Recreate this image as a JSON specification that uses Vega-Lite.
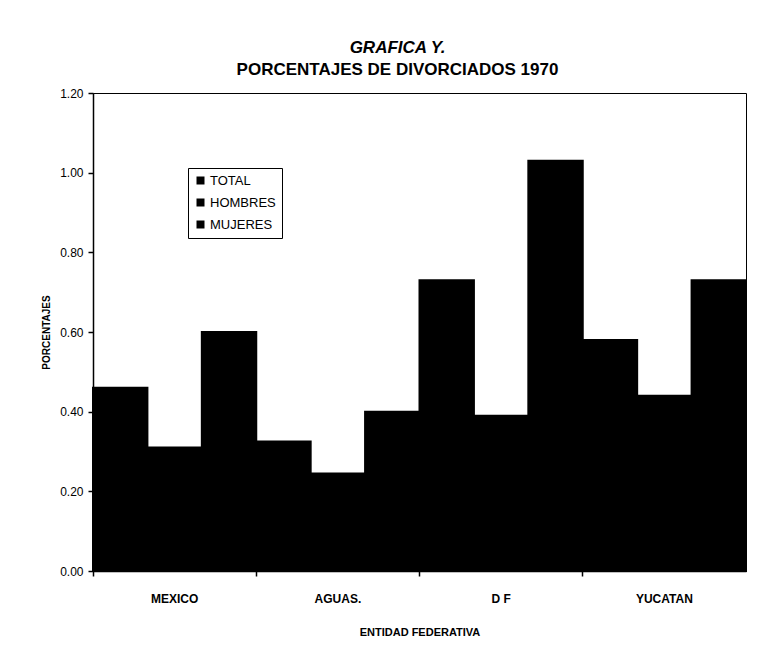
{
  "$schema": "https://vega.github.io/schema/vega-lite/v6.json",
  "autosize": "none",
  "width": 653,
  "height": 478,
  "padding": {"left": 93, "top": 93, "right": 33, "bottom": 82},
  "background": "white",
  "title": {
    "text": "GRAFICA Y.",
    "subtitle": "PORCENTAJES DE DIVORCIADOS 1970",
    "anchor": "middle",
    "dx": -22,
    "offset": 8,
    "font": "Liberation Sans",
    "fontSize": 17,
    "fontWeight": "bold",
    "fontStyle": "italic",
    "color": "black",
    "subtitleFont": "Liberation Sans",
    "subtitleFontSize": 17,
    "subtitleFontWeight": "bold",
    "subtitleFontStyle": "normal",
    "subtitleColor": "black",
    "subtitlePadding": 5
  },
  "data": {
    "values": [
      {"entidad": "MEXICO", "serie": "TOTAL", "pct": 0.46},
      {"entidad": "MEXICO", "serie": "HOMBRES", "pct": 0.31},
      {"entidad": "MEXICO", "serie": "MUJERES", "pct": 0.60},
      {"entidad": "AGUAS.", "serie": "TOTAL", "pct": 0.325},
      {"entidad": "AGUAS.", "serie": "HOMBRES", "pct": 0.245},
      {"entidad": "AGUAS.", "serie": "MUJERES", "pct": 0.40},
      {"entidad": "D F", "serie": "TOTAL", "pct": 0.73},
      {"entidad": "D F", "serie": "HOMBRES", "pct": 0.39},
      {"entidad": "D F", "serie": "MUJERES", "pct": 1.03},
      {"entidad": "YUCATAN", "serie": "TOTAL", "pct": 0.58},
      {"entidad": "YUCATAN", "serie": "HOMBRES", "pct": 0.44},
      {"entidad": "YUCATAN", "serie": "MUJERES", "pct": 0.73}
    ]
  },
  "mark": {"type": "bar", "stroke": "black", "strokeWidth": 2},
  "encoding": {
    "x": {
      "field": "entidad",
      "type": "nominal",
      "sort": ["MEXICO", "AGUAS.", "D F", "YUCATAN"],
      "scale": {"paddingInner": 0, "paddingOuter": 0},
      "axis": {
        "title": "ENTIDAD FEDERATIVA",
        "labelAngle": 0,
        "bandPosition": 0,
        "domainColor": "black",
        "domainWidth": 1.5,
        "tickColor": "black",
        "tickSize": 5,
        "tickWidth": 1.5,
        "labelFont": "Liberation Sans",
        "labelFontSize": 12,
        "labelFontWeight": "bold",
        "labelColor": "black",
        "labelPadding": 17,
        "titleFont": "Liberation Sans",
        "titleFontSize": 11,
        "titleFontWeight": "bold",
        "titleColor": "black",
        "titlePadding": 22
      }
    },
    "xOffset": {
      "field": "serie",
      "type": "nominal",
      "sort": ["TOTAL", "HOMBRES", "MUJERES"],
      "scale": {"paddingInner": 0, "paddingOuter": 0}
    },
    "y": {
      "field": "pct",
      "type": "quantitative",
      "scale": {"domain": [0, 1.2], "nice": false},
      "axis": {
        "title": "PORCENTAJES",
        "values": [0, 0.2, 0.4, 0.6, 0.8, 1.0, 1.2],
        "format": ".2f",
        "grid": false,
        "domainColor": "black",
        "domainWidth": 1.5,
        "tickColor": "black",
        "tickSize": 5,
        "tickWidth": 1.5,
        "labelFont": "Liberation Sans",
        "labelFontSize": 12,
        "labelColor": "black",
        "labelPadding": 5,
        "titleFont": "Liberation Sans",
        "titleFontSize": 10,
        "titleFontWeight": "bold",
        "titleColor": "black",
        "titlePadding": 8
      }
    },
    "color": {
      "field": "serie",
      "type": "nominal",
      "sort": ["TOTAL", "HOMBRES", "MUJERES"],
      "scale": {"domain": ["TOTAL", "HOMBRES", "MUJERES"], "range": ["#000000", "#000000", "#000000"]},
      "legend": {
        "title": null,
        "orient": "none",
        "legendX": 95,
        "legendY": 75,
        "strokeColor": "black",
        "fillColor": "white",
        "padding": 6,
        "symbolType": "square",
        "symbolSize": 64,
        "symbolStrokeWidth": 0,
        "symbolOffset": 0,
        "labelOffset": 3,
        "rowPadding": 8,
        "labelFont": "Liberation Sans",
        "labelFontSize": 13,
        "labelColor": "black"
      }
    }
  },
  "config": {
    "view": {"stroke": "black", "strokeWidth": 1}
  }
}
